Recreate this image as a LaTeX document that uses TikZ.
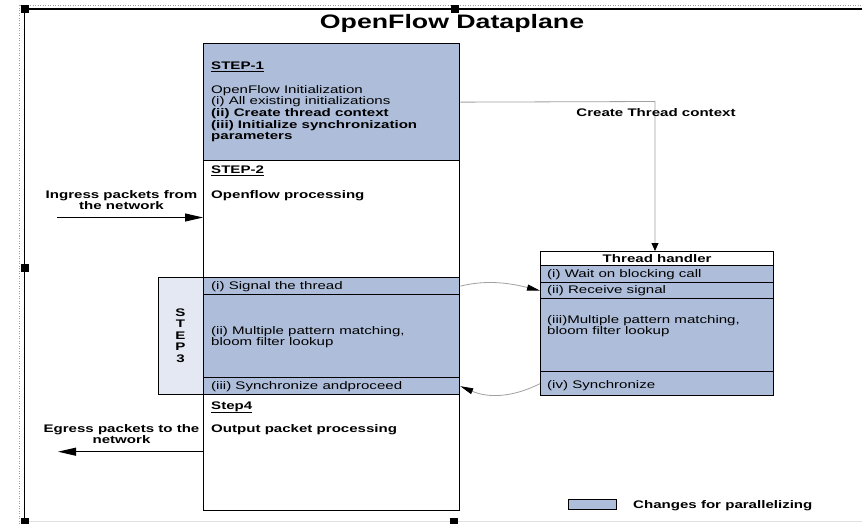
\documentclass[tikz,border=0pt]{standalone}
\usepackage{fontspec}
\setmainfont[FakeStretch=1.37]{Liberation Sans}
\usetikzlibrary{arrows.meta}
\definecolor{pblue}{RGB}{174,190,218}
\definecolor{plight}{RGB}{227,232,243}
\definecolor{lgray}{RGB}{160,160,160}
\begin{document}
\begin{tikzpicture}[x=1pt,y=-1pt,
  rowbox/.style={draw=black,line width=1.3pt,inner sep=0pt,anchor=north west,minimum width=256pt},
  thbox/.style={draw=black,line width=1.3pt,inner sep=0pt,anchor=north west,minimum width=233pt},
  txt/.style={anchor=base west,inner sep=0pt,font=\fontsize{11}{13}\selectfont},
  btxt/.style={txt,font=\fontsize{11}{13}\selectfont\bfseries},
  ctxt/.style={anchor=base,inner sep=0pt,font=\fontsize{11}{13}\selectfont\bfseries},
  handle/.style={fill=black,inner sep=0pt,minimum width=8pt,minimum height=8pt},
  bigarrow/.style={line width=1pt,-{Triangle[length=18pt,width=8pt]}},
  flow/.style={draw=lgray,line width=0.8pt,-{Triangle[length=13pt,width=6pt,fill=black,color=black]}}
]
\useasboundingbox (0,0) rectangle (862,524);
% frame
\draw[lgray,line width=0.8pt,dash pattern=on 1pt off 1.5pt] (19,524) -- (19,5) -- (862,5);
\draw[black,line width=1.3pt] (24.3,524) -- (24.3,9) -- (862,9);
\draw[black!12,line width=1pt] (24,521.7) -- (862,521.7);
\node[handle] (h1) at (25,9) {};
\node[handle] (h2) at (455,9) {};
\node[handle] (h3) at (25,268) {};
\node[handle] (h4) at (25,522) {};
\node[handle] (h5) at (454,522) {};
% title
\node[anchor=base,inner sep=0pt,font=\fontsize{19.5}{22}\selectfont\bfseries] (title) at (452,29) {OpenFlow Dataplane};
% main column
\node[rowbox,fill=pblue,minimum height=117pt] (s1) at (203,43) {};
\node[rowbox,fill=white,minimum height=117pt] (s2) at (203,160) {};
\node[rowbox,fill=pblue,minimum height=17pt] (s3a) at (203,277) {};
\node[rowbox,fill=pblue,minimum height=83pt] (s3b) at (203,294) {};
\node[rowbox,fill=pblue,minimum height=17pt] (s3c) at (203,377) {};
\node[rowbox,fill=white,minimum height=116pt] (s4) at (203,394) {};
\node[draw=black,line width=1.3pt,inner sep=0pt,anchor=north west,fill=plight,minimum width=45pt,minimum height=117pt] (side) at (158,277) {};
% texts main column
\node[btxt] (t1a) at (211,70) {\underline{STEP-1}};
\node[txt] (t1b) at (211,94) {OpenFlow Initialization};
\node[txt] (t1c) at (211,105) {(i) All existing initializations};
\node[btxt] (t1d) at (211,117) {(ii) Create thread context};
\node[btxt] (t1e) at (211,128.5) {(iii) Initialize synchronization};
\node[btxt] (t1f) at (211,140) {parameters};
\node[btxt] (t2a) at (211,174) {\underline{STEP-2}};
\node[btxt] (t2b) at (211,198) {Openflow processing};
\node[txt] (t3a) at (211,289) {(i) Signal the thread};
\node[txt] (t3b) at (211,334) {(ii) Multiple pattern matching,};
\node[txt] (t3c) at (211,345) {bloom filter lookup};
\node[txt] (t3d) at (211,389) {(iii) Synchronize andproceed};
\node[btxt] (t4a) at (211,409) {\underline{Step4}};
\node[btxt] (t4b) at (211,432) {Output packet processing};
% STEP3 vertical
\node[ctxt] (l1) at (180.5,316) {S};
\node[ctxt] (l2) at (180.5,327.5) {T};
\node[ctxt] (l3) at (180.5,339) {E};
\node[ctxt] (l4) at (180.5,350.5) {P};
\node[ctxt] (l5) at (180.5,362.5) {3};
% thread handler
\node[thbox,fill=white,minimum height=14pt,font=\fontsize{11}{13}\selectfont\bfseries] (th0) at (540,251) {Thread handler};
\node[thbox,fill=pblue,minimum height=17pt] (th1) at (540,265) {};
\node[thbox,fill=pblue,minimum height=16pt] (th2) at (540,282) {};
\node[thbox,fill=pblue,minimum height=73pt] (th3) at (540,298) {};
\node[thbox,fill=pblue,minimum height=24pt] (th4) at (540,371) {};
\node[txt] (u1) at (547,277) {(i) Wait on blocking call};
\node[txt] (u2) at (547,293) {(ii) Receive signal};
\node[txt] (u3) at (547,323) {(iii)Multiple pattern matching,};
\node[txt] (u4) at (547,334) {bloom filter lookup};
\node[txt] (u5) at (547,388) {(iv) Synchronize};
% create thread context
\coordinate (corner) at (655,101.5);
\draw[draw=lgray,line width=0.8pt,-{Triangle[length=8pt,width=7pt,fill=black,color=black]}] (s1.east) -- (corner) -- (th0.north -| corner);
\node[ctxt] (ctc) at (656,117) {Create Thread context};
% curved arrows
\draw[flow] (s3a.east) .. controls +(28,-7) and +(-28,-7) .. (th2.west);
\draw[flow] (th4.west) .. controls +(-28,14) and +(28,12) .. (s3c.east);
% ingress / egress
\node[ctxt] (ing1) at (121.5,198) {Ingress packets from};
\node[ctxt] (ing2) at (121.5,209) {the network};
\coordinate (ingstart) at (57,217.5);
\draw[bigarrow] (ingstart) -- (ingstart -| s2.west);
\node[ctxt] (eg1) at (121.5,432) {Egress packets to the};
\node[ctxt] (eg2) at (121.5,443) {network};
\coordinate (egend) at (58,451.7);
\draw[bigarrow] (egend -| s4.west) -- (egend);
% legend
\node[draw=black,line width=1.3pt,fill=pblue,inner sep=0pt,anchor=north west,minimum width=48pt,minimum height=10pt] (leg) at (568,499) {};
\node[btxt] (legt) at (633,508) {Changes for parallelizing};
\end{tikzpicture}
\end{document}
